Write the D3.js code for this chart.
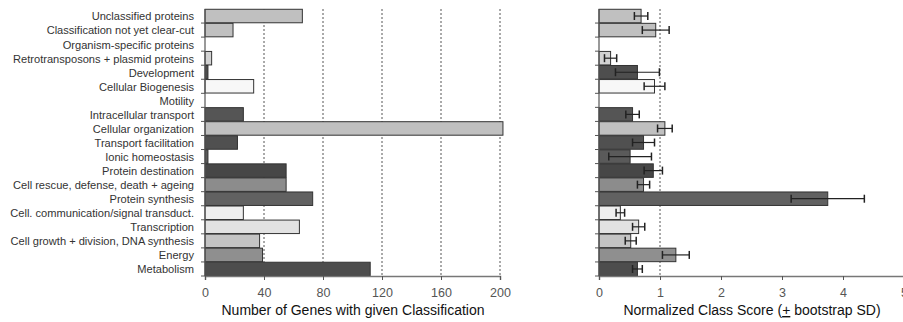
<!DOCTYPE html>
<html><head><meta charset="utf-8">
<script src="https://cdn.jsdelivr.net/npm/d3@7"></script>
<style>
html,body{margin:0;padding:0;background:#fff;}
svg{display:block;font-family:"Liberation Sans",Arial,sans-serif;}
</style></head>
<body>
<svg id="chart" width="903" height="322"></svg>
<script>
const categories = [
  "Unclassified proteins",
  "Classification not yet clear-cut",
  "Organism-specific proteins",
  "Retrotransposons + plasmid proteins",
  "Development",
  "Cellular Biogenesis",
  "Motility",
  "Intracellular transport",
  "Cellular organization",
  "Transport facilitation",
  "Ionic homeostasis",
  "Protein destination",
  "Cell rescue, defense, death + ageing",
  "Protein synthesis",
  "Cell. communication/signal transduct.",
  "Transcription",
  "Cell growth + division, DNA synthesis",
  "Energy",
  "Metabolism"
];
const geneCounts = [66, 19, 0, 4.5, 2, 33, 0, 26, 202, 22, 2, 55, 55, 73, 26, 64, 37, 39, 112];
const classScores = [0.69, 0.93, 0, 0.19, 0.63, 0.91, 0, 0.55, 1.08, 0.73, 0.51, 0.89, 0.73, 3.75, 0.35, 0.65, 0.52, 1.26, 0.63];
const bootstrapSD = [0.11, 0.22, 0, 0.10, 0.36, 0.17, 0, 0.11, 0.12, 0.18, 0.35, 0.15, 0.10, 0.60, 0.07, 0.10, 0.09, 0.22, 0.08];
const countTicks = [0, 40, 80, 120, 160, 200];
const scoreTicks = [0, 1, 2, 3, 4, 5];
const countGrid = [40, 80, 120, 160, 200];
const scoreGrid = [1];
// palette (style), one shade per category
const barColors = ["#c0c0c0","#c0c0c0","#c0c0c0","#d2d2d2","#4e4e4e","#f7f7f7","#c0c0c0","#555555","#c0c0c0","#505050","#5a5a5a","#474747","#8c8c8c","#616161","#eeeeee","#e2e2e2","#c4c4c4","#8f8f8f","#4d4d4d"];

const svg = d3.select("#chart");
const plotTop = 9, plotBottom = 276;
const y = d3.scaleBand().domain(categories).range([plotTop, plotBottom]).paddingInner(0.04).paddingOuter(0.02);

function panel(x0, x1, domain, values, ticks, grid, withLabels, errs) {
  const x = d3.scaleLinear().domain(domain).range([x0, x1]);
  const g = svg.append("g");
  g.selectAll("line.grid").data(grid).join("line")
    .attr("x1", d => x(d)).attr("x2", d => x(d))
    .attr("y1", plotTop).attr("y2", plotBottom)
    .attr("stroke", "#555").attr("stroke-width", 1).attr("stroke-dasharray", "2,2");
  g.selectAll("rect.bar").data(categories).join("rect")
    .attr("x", x(0))
    .attr("y", d => y(d))
    .attr("height", y.bandwidth())
    .attr("width", (d, i) => Math.max(0, x(values[i]) - x(0)))
    .attr("fill", (d, i) => barColors[i])
    .attr("stroke", "#333").attr("stroke-width", 1)
    .attr("display", (d, i) => values[i] > 0 ? null : "none");
  if (errs) {
    const eg = g.selectAll("g.err").data(categories.filter((d, i) => values[i] > 0)).join("g");
    eg.each(function(d) {
      const i = categories.indexOf(d);
      const cy = y(d) + y.bandwidth() / 2;
      const lo = x(values[i] - errs[i]), hi = x(values[i] + errs[i]);
      const s = d3.select(this);
      s.append("line").attr("x1", lo).attr("x2", hi).attr("y1", cy).attr("y2", cy)
        .attr("stroke", "#222").attr("stroke-width", 1.2);
      [lo, hi].forEach(px => s.append("line").attr("x1", px).attr("x2", px)
        .attr("y1", cy - 4).attr("y2", cy + 4).attr("stroke", "#222").attr("stroke-width", 1.5));
    });
  }
  const xa = g.append("g").attr("transform", `translate(0,${plotBottom})`)
    .call(d3.axisBottom(x).tickValues(ticks).tickSize(4).tickPadding(8).tickFormat(d3.format("d")));
  xa.select(".domain").attr("stroke", "#777").attr("stroke-width", 1.5);
  xa.selectAll(".tick line").attr("stroke", "#555");
  xa.selectAll(".tick text").attr("fill", "#555").style("font-size", "12.5px").style("font-family", "Liberation Sans, Arial, sans-serif");
  g.append("line").attr("x1", x(0)).attr("x2", x(0)).attr("y1", plotTop).attr("y2", plotBottom)
    .attr("stroke", "#555").attr("stroke-width", 1.2);
  const bounds = categories.map(c => y(c) - y.step() * y.paddingInner() / 2).concat([plotBottom]);
  g.selectAll("line.ytick").data(bounds.slice(1)).join("line")
    .attr("x1", x(0) - 4).attr("x2", x(0)).attr("y1", d => d).attr("y2", d => d)
    .attr("stroke", "#555");
  if (withLabels) {
    g.selectAll("text.cat").data(categories).join("text")
      .attr("x", x(0) - 11).attr("y", d => y(d) + y.bandwidth() / 2 + 0.5)
      .attr("dy", "0.35em").attr("text-anchor", "end")
      .attr("fill", "#333").style("font-size", "11.1px").text(d => d);
  }
  return {x, g};
}

const left = panel(205, 500, [0, 200], geneCounts, countTicks, countGrid, true, null);
left.g.append("text").attr("x", 353).attr("y", 315).attr("text-anchor", "middle")
  .attr("fill", "#111").style("font-size", "14px").text("Number of Genes with given Classification");

const right = panel(599, 904, [0, 5], classScores, scoreTicks, scoreGrid, false, bootstrapSD);
const t = right.g.append("text").attr("x", 752).attr("y", 315).attr("text-anchor", "middle")
  .attr("fill", "#111").style("font-size", "14px");
t.append("tspan").text("Normalized Class Score (");
t.append("tspan").attr("text-decoration", "underline").text("+");
t.append("tspan").text(" bootstrap SD)");
</script>
</body></html>
